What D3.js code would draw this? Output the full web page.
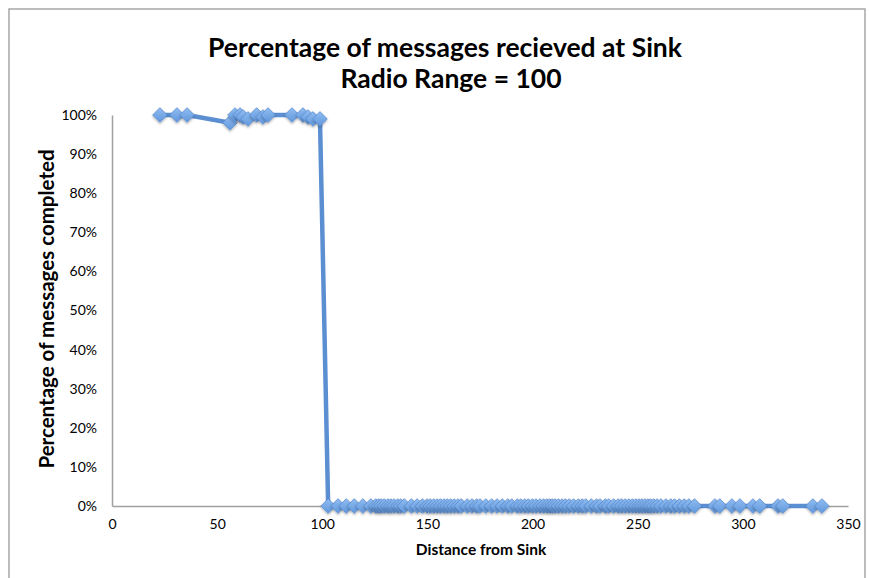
<!DOCTYPE html>
<html>
<head>
<meta charset="utf-8">
<script src="https://cdn.jsdelivr.net/npm/d3@7"></script>
<style>
  html, body { margin: 0; padding: 0; background: #ffffff; }
  svg text { font-family: Lato, "Open Sans", sans-serif; fill: #000; }
</style>
</head>
<body>
<svg id="chart" width="869" height="578"></svg>
<script>
// Distance of each node from the sink (sorted), and share of its messages received.
const distance = [
  22.8, 30.9, 35.7, 56.1, 58.5, 60.9, 62.3, 64.7, 68.8, 71.8,
  74.2, 85.6, 90.8, 93.2, 95.6, 98.9,
  102.8, 107.5, 111.4, 115.2, 119.3, 123.1, 125.4, 126.8, 128.0, 129.5,
  131.2, 132.6, 134.1, 135.9, 137.3, 139.0, 142.4, 145.1, 147.6, 149.8,
  151.3, 153.0, 154.6, 156.2, 157.9, 159.4, 161.0, 162.7, 164.5, 166.1,
  168.9, 171.2, 173.4, 175.0, 177.8, 180.5, 183.1, 185.6, 188.2, 190.1,
  192.7, 194.4, 196.3, 198.0, 199.9, 201.6, 203.5, 205.2, 206.8, 208.1,
  209.4, 210.7, 212.3, 214.0, 215.6, 217.4, 219.5, 221.8, 223.6, 225.3,
  227.9, 230.4, 232.1, 234.6, 236.2, 238.5, 240.7, 242.3, 244.0, 245.8,
  247.5, 249.1, 250.6, 252.0, 253.4, 254.8, 256.1, 257.6, 259.2, 261.0,
  263.4, 265.7, 267.5, 269.8, 272.1, 274.3, 277.0, 286.7, 289.0, 294.8,
  298.6, 304.8, 308.0, 316.7, 319.0, 333.3, 337.6
];
const received = [
  1.00, 1.00, 1.00, 0.98, 1.00, 1.00, 0.995, 0.99, 1.00, 0.995,
  1.00, 1.00, 1.00, 0.995, 0.99, 0.99,
  0, 0, 0, 0, 0, 0, 0, 0, 0, 0,
  0, 0, 0, 0, 0, 0, 0, 0, 0, 0,
  0, 0, 0, 0, 0, 0, 0, 0, 0, 0,
  0, 0, 0, 0, 0, 0, 0, 0, 0, 0,
  0, 0, 0, 0, 0, 0, 0, 0, 0, 0,
  0, 0, 0, 0, 0, 0, 0, 0, 0, 0,
  0, 0, 0, 0, 0, 0, 0, 0, 0, 0,
  0, 0, 0, 0, 0, 0, 0, 0, 0, 0,
  0, 0, 0, 0, 0, 0, 0, 0, 0, 0,
  0, 0, 0, 0, 0, 0, 0
];
const xTicks = [0, 50, 100, 150, 200, 250, 300, 350];
const yTicks = [0, 0.1, 0.2, 0.3, 0.4, 0.5, 0.6, 0.7, 0.8, 0.9, 1.0];
const titleLines = ["Percentage of messages recieved at Sink", "Radio Range = 100"];
const xLabel = "Distance from Sink";
const yLabel = "Percentage of messages completed";

const points = distance.map((d, i) => ({ d, p: received[i] }));

const svg = d3.select("#chart");

// Outer chart frame
svg.append("rect")
  .attr("x", 9).attr("y", 9).attr("width", 856).attr("height", 600)
  .attr("fill", "none").attr("stroke", "#a6a6a6").attr("stroke-width", 1.5);

const x = d3.scaleLinear().domain([0, 350]).range([112, 848]);
const y = d3.scaleLinear().domain([0, 1]).range([506, 115]);

const defs = svg.append("defs");
const shadow = defs.append("filter").attr("id", "mshadow")
  .attr("x", "-50%").attr("y", "-50%").attr("width", "200%").attr("height", "200%");
shadow.append("feDropShadow")
  .attr("dx", 0).attr("dy", 1.5).attr("stdDeviation", 1.2)
  .attr("flood-color", "#000").attr("flood-opacity", 0.3);

const grad = defs.append("linearGradient").attr("id", "mfill")
  .attr("x1", 0).attr("y1", 0).attr("x2", 0).attr("y2", 1);
grad.append("stop").attr("offset", "0%").attr("stop-color", "#90bdf2");
grad.append("stop").attr("offset", "100%").attr("stop-color", "#6198dc");

// Axes
const xAxis = svg.append("g")
  .attr("transform", `translate(0,${y(0)})`)
  .call(d3.axisBottom(x).tickValues(xTicks).tickSize(0).tickPadding(13).tickFormat(d3.format("d")));
xAxis.select(".domain").attr("stroke", "#a0a0a0").attr("stroke-width", 1.5);
xAxis.selectAll("text").style("font-size", "14px").style("font-family", "Lato, sans-serif");

const yAxis = svg.append("g")
  .attr("transform", `translate(${x(0)},0)`)
  .call(d3.axisLeft(y).tickValues(yTicks).tickSize(0).tickPadding(15).tickFormat(d3.format(".0%")));
yAxis.select(".domain").attr("stroke", "#a0a0a0").attr("stroke-width", 1.5);
yAxis.selectAll("text").style("font-size", "14px").style("font-family", "Lato, sans-serif");

// Series line
const line = d3.line().x(d => x(d.d)).y(d => y(d.p));
svg.append("path")
  .datum(points)
  .attr("d", line)
  .attr("fill", "none")
  .attr("stroke", "#5b8fd2")
  .attr("stroke-width", 4.5)
  .attr("stroke-linejoin", "round");

// Diamond markers
const diamond = "M0,-7.3L7.3,0L0,7.3L-7.3,0Z";
svg.append("g").selectAll("path")
  .data(points)
  .join("path")
  .attr("transform", d => `translate(${x(d.d)},${y(d.p)})`)
  .attr("d", diamond)
  .attr("fill", "url(#mfill)")
  .attr("stroke", "#5a8dd2")
  .attr("stroke-width", 0.8)
  .attr("filter", "url(#mshadow)");

// Titles
svg.append("text")
  .attr("x", 445).attr("y", 57)
  .attr("text-anchor", "middle")
  .style("font-size", "26.5px").style("font-weight", "bold")
  .text(titleLines[0]);
svg.append("text")
  .attr("x", 451).attr("y", 88)
  .attr("text-anchor", "middle")
  .style("font-size", "26.5px").style("font-weight", "bold")
  .text(titleLines[1]);

svg.append("text")
  .attr("x", 481).attr("y", 555)
  .attr("text-anchor", "middle")
  .style("font-size", "15.5px").style("font-weight", "bold")
  .text(xLabel);

svg.append("text")
  .attr("transform", "translate(54,309) rotate(-90)")
  .attr("text-anchor", "middle")
  .style("font-size", "20.5px").style("font-weight", "bold")
  .text(yLabel);
</script>
</body>
</html>
